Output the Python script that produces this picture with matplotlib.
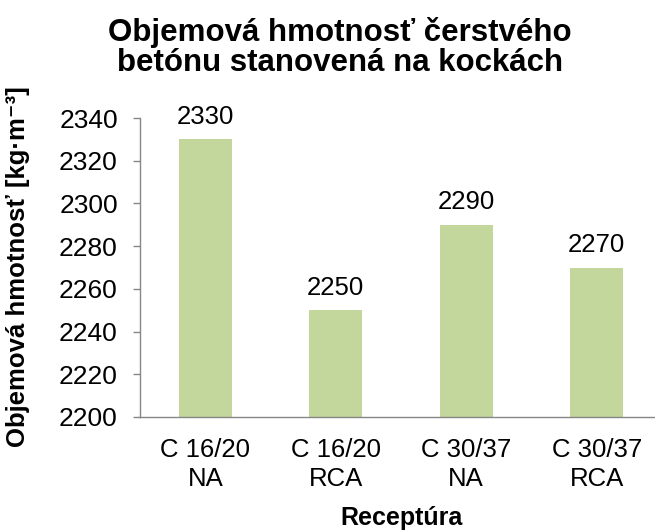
import matplotlib
matplotlib.use("Agg")
import matplotlib.pyplot as plt

categories = ["C 16/20\nNA", "C 16/20\nRCA", "C 30/37\nNA", "C 30/37\nRCA"]
values = [2330, 2250, 2290, 2270]
yticks = [2200, 2220, 2240, 2260, 2280, 2300, 2320, 2340]

plt.rcParams['font.family'] = ['Liberation Sans', 'DejaVu Sans']

fig = plt.figure(figsize=(6.55, 5.30), dpi=100)
ax = fig.add_axes([140/655, 113/530, 522/655, 299/530])

x = list(range(len(categories)))
bars = ax.bar(x, values, width=0.405, color="#c3d69b", zorder=2)
ax.set_ylim(2200, 2340)
ax.set_xlim(-0.5, 3.5)
ax.set_yticks(yticks)
ax.set_yticklabels([str(t) for t in yticks], fontsize=19)
ax.set_xticks(x)
ax.set_xticklabels(categories, fontsize=18.5, linespacing=1.28)
ax.tick_params(axis='x', length=0, pad=15)
ax.tick_params(axis='y', length=5, width=1, color="#868686", pad=11)

for s in ["top", "right"]:
    ax.spines[s].set_visible(False)
for s in ["left", "bottom"]:
    ax.spines[s].set_color("#868686")
    ax.spines[s].set_linewidth(1)

for xi, v in zip(x, values):
    ax.annotate(str(v), (xi, v), xytext=(0, 7.5), textcoords="offset points",
                ha="center", va="bottom", fontsize=18.5)

ax.set_xlabel("Receptúra", fontsize=18, fontweight="bold", labelpad=11)
fig.text(18/655, 1 - 267/530, "Objemová hmotnosť [kg·m⁻³]", rotation=90,
         ha="center", va="center", fontsize=18.5, fontweight="bold")
fig.text(340/655, 1 - 47.5/530, "Objemová hmotnosť čerstvého\nbetónu stanovená na kockách",
         ha="center", va="center", fontsize=22.5, fontweight="bold", linespacing=0.98)

fig.savefig("out.png", dpi=100)
